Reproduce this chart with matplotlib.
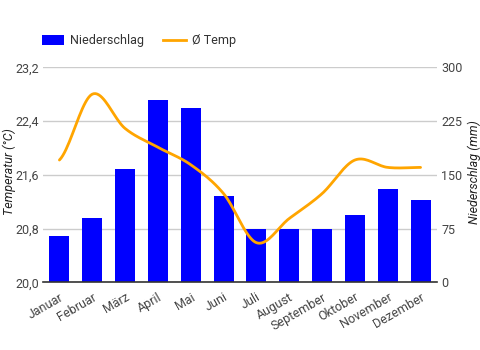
import numpy as np
import matplotlib
matplotlib.use("Agg")
import matplotlib.pyplot as plt
from matplotlib.lines import Line2D
from matplotlib.patches import Patch

plt.rcParams['font.family'] = ['Roboto', 'DejaVu Sans']

months = ["Januar", "Februar", "März", "April", "Mai", "Juni", "Juli",
          "August", "September", "Oktober", "November", "Dezember"]
niederschlag = [65, 90, 158, 254, 243, 120, 74, 74, 74, 94, 130, 115]
temp = [21.82, 22.80, 22.29, 22.01, 21.75, 21.32, 20.59, 20.95, 21.32, 21.82, 21.71, 21.71]
temp_ticks = [20.0, 20.8, 21.6, 22.4, 23.2]
precip_ticks = [0, 75, 150, 225, 300]


def smooth(xs, ys, n=20):
    xs = np.asarray(xs, float)
    ys = np.asarray(ys, float)
    px = np.concatenate([[2 * xs[0] - xs[1]], xs, [2 * xs[-1] - xs[-2]]])
    py = np.concatenate([[ys[0]], ys, [ys[-1]]])
    outx, outy = [], []
    for i in range(1, len(px) - 2):
        t = np.linspace(0, 1, n, endpoint=(i == len(px) - 3))
        p0, p1, p2, p3 = py[i - 1], py[i], py[i + 1], py[i + 2]
        x0, x1, x2, x3 = px[i - 1], px[i], px[i + 1], px[i + 2]
        f = lambda a0, a1, a2, a3: 0.5 * ((2 * a1) + (-a0 + a2) * t +
                                          (2 * a0 - 5 * a1 + 4 * a2 - a3) * t ** 2 +
                                          (-a0 + 3 * a1 - 3 * a2 + a3) * t ** 3)
        outx.append(f(x0, x1, x2, x3))
        outy.append(f(p0, p1, p2, p3))
    return np.concatenate(outx), np.concatenate(outy)


fig = plt.figure(figsize=(4.81, 3.5), dpi=100)
ax = fig.add_axes([0.0894, 0.1934, 0.8191, 0.6143])
x = np.arange(len(months))

ax.bar(x, niederschlag, width=0.61, color="#0000ff", zorder=2)
ax.set_ylim(0, 300)
ax.set_xlim(-0.5, len(months) - 0.5)
ax.grid(axis='y', color="#cccccc", linewidth=1, zorder=0)
ax.set_axisbelow(True)

ax2 = ax.twinx()
sx, sy = smooth(x, temp)
ax2.plot(sx, sy, color="#ffa500", linewidth=2, solid_capstyle='round', zorder=3)
ax2.set_ylim(20.0, 23.2)
ax2.set_yticks(temp_ticks)
ax2.set_yticklabels([f"{v:.1f}".replace('.', ',') for v in temp_ticks])
ax2.yaxis.tick_left()

ax.set_yticks(precip_ticks)
ax.set_yticklabels([str(v) for v in precip_ticks])
ax.yaxis.tick_right()

for a in (ax, ax2):
    for s in a.spines.values():
        s.set_visible(False)
    a.tick_params(axis='y', length=0, labelsize=9, labelcolor="#444444", pad=3)

ax.spines['bottom'].set_visible(True)
ax.spines['bottom'].set_color("#333333")
ax.spines['bottom'].set_linewidth(1.2)

ax.set_xticks(x)
ax.set_xticklabels(months, rotation=30, ha='right', rotation_mode='anchor')
ax.tick_params(axis='x', length=0, labelsize=9, labelcolor="#444444", pad=6)

yc = 1 - 172 / 350
fig.text(9 / 481, yc, "Temperatur (°C)", rotation=90, ha='center', va='center',
         fontsize=9, style='italic', color="#222222")
fig.text(474 / 481, yc, "Niederschlag (mm)", rotation=90, ha='center', va='center',
         fontsize=9, style='italic', color="#222222")

handles = [Patch(facecolor="#0000ff", edgecolor="none"),
           Line2D([0], [0], color="#ffa500", linewidth=2)]
fig.legend(handles, ["Niederschlag", "Ø Temp"], loc='center left',
           bbox_to_anchor=(0.066, 0.883), ncol=2, frameon=False, fontsize=9,
           handlelength=1.8, handleheight=0.9, handletextpad=0.5, columnspacing=1.5,
           labelcolor="#333333", borderpad=0.3)

fig.savefig("out.png", dpi=100)
